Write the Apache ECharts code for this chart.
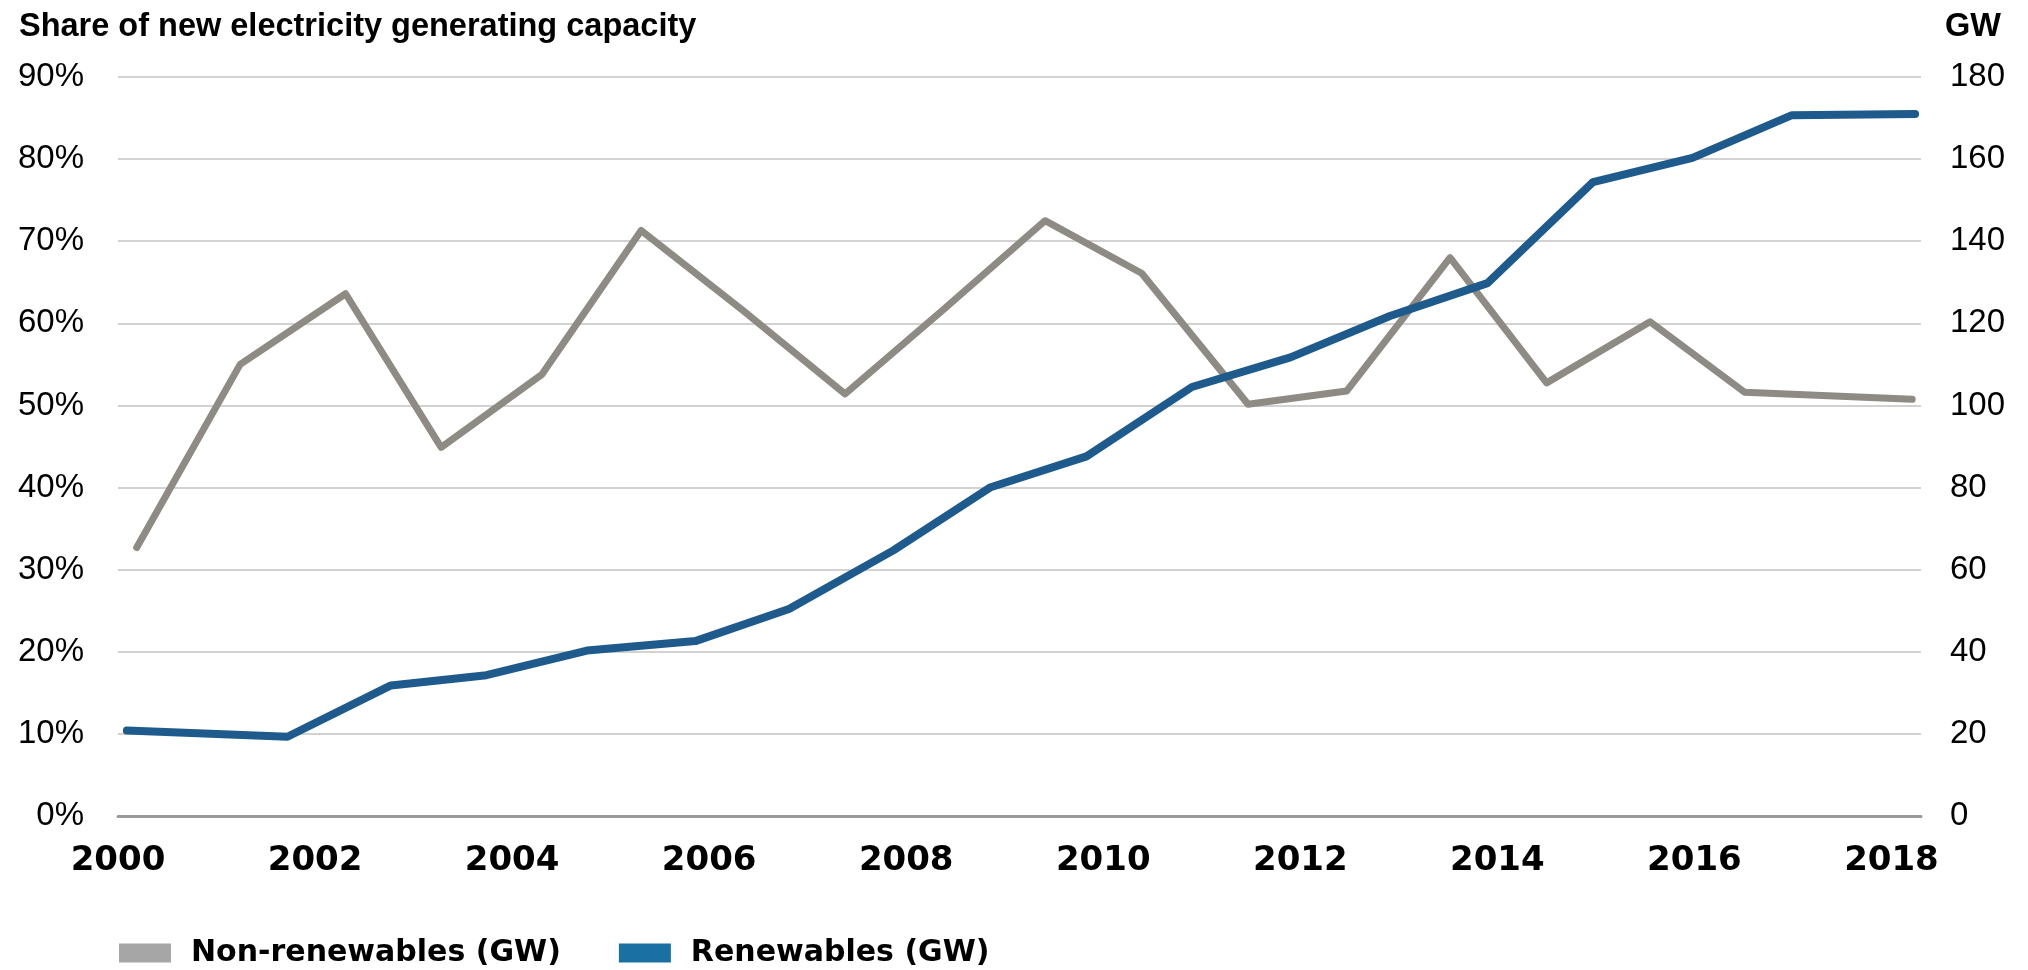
<!DOCTYPE html>
<html>
<head>
<meta charset="utf-8">
<script src="https://cdn.jsdelivr.net/npm/echarts@6/dist/echarts.min.js"></script>
<style>
  html, body { margin: 0; padding: 0; background: #ffffff; }
  #chart { width: 2028px; height: 970px; }
</style>
</head>
<body>
<div id="chart"></div>
<script>
// ---- data ----
const titleText = 'Share of new electricity generating capacity';
const rightUnit = 'GW';
const seriesNames = ['Non-renewables (GW)', 'Renewables (GW)'];
const xTickYears = [2000, 2002, 2004, 2006, 2008, 2010, 2012, 2014, 2016, 2018];
const leftTicks = [0, 10, 20, 30, 40, 50, 60, 70, 80, 90];      // percent
const rightTicks = [0, 20, 40, 60, 80, 100, 120, 140, 160, 180]; // GW

// position of each point along the year axis (as drawn in the picture)
const nonRenewablesX = [2000.19, 2001.24, 2002.31, 2003.28, 2004.30, 2005.31, 2006.35, 2007.38, 2008.38,
                        2009.41, 2010.39, 2011.47, 2012.47, 2013.52, 2014.50, 2015.55, 2016.51, 2018.21];
const nonRenewablesGW = [65.4, 110, 127.2, 89.8, 107.5, 142.6, 123, 102.8, 123.4,
                         145, 132.2, 100.3, 103.5, 136, 105.5, 120.4, 103.2, 101.5];

const renewablesX = [2000.09, 2001.72, 2002.77, 2003.74, 2004.76, 2005.86, 2006.81, 2007.87, 2008.85,
                     2009.83, 2010.90, 2011.90, 2012.91, 2013.90, 2014.97, 2015.98, 2016.99, 2018.24];
const renewablesGW = [20.8, 19.3, 31.8, 34.3, 40.3, 42.6, 50.4, 64.7, 80,
                      87.6, 104.5, 111.7, 121.8, 129.8, 154.4, 160.3, 170.7, 171.0];

// ---- chart ----
const chart = echarts.init(document.getElementById('chart'), null, { renderer: 'canvas' });
const pair = (xs, ys) => xs.map((x, i) => [x, ys[i]]);
const FONT = 'DejaVu Sans';
const FONT2 = 'Liberation Sans';

chart.setOption({
  animation: false,
  backgroundColor: '#ffffff',
  title: [
    {
      text: titleText, left: 14, top: 6,
      textStyle: { fontFamily: FONT2, fontWeight: 'bold', fontSize: 32.5, color: '#000' }
    },
    {
      text: rightUnit, right: 22, top: 6,
      textStyle: { fontFamily: FONT2, fontWeight: 'bold', fontSize: 32.5, color: '#000' }
    }
  ],
  legend: {
    left: 119, top: 938, padding: 0,
    itemWidth: 52, itemHeight: 19, itemGap: 58,
    icon: 'rect',
    textStyle: { fontFamily: FONT, fontWeight: 'bold', fontSize: 30, color: '#000', padding: [0, 0, 0, 15] },
    data: [
      { name: seriesNames[0], itemStyle: { color: '#A6A6A6' } },
      { name: seriesNames[1], itemStyle: { color: '#1A6FA3' } }
    ]
  },
  grid: { left: 118, right: 107, top: 77, bottom: 154, containLabel: false },
  xAxis: {
    type: 'value',
    min: xTickYears[0],
    max: 2018.3,
    interval: 2,
    splitLine: { show: false },
    axisTick: { show: false },
    axisLine: { show: true, lineStyle: { color: '#999999', width: 3 } },
    axisLabel: {
      showMaxLabel: false,
      margin: 28,
      fontFamily: FONT, fontWeight: 'bold', fontSize: 34, color: '#000',
      formatter: v => (xTickYears.indexOf(v) >= 0 ? String(v) : '')
    }
  },
  yAxis: [
    {
      type: 'value', position: 'left',
      min: leftTicks[0], max: leftTicks[leftTicks.length - 1], interval: leftTicks[1] - leftTicks[0],
      axisLine: { show: false }, axisTick: { show: false },
      splitLine: { show: true, lineStyle: { color: '#D2D2D2', width: 2 } },
      axisLabel: { margin: 34, fontFamily: FONT2, fontSize: 33, color: '#000', formatter: '{value}%' }
    },
    {
      type: 'value', position: 'right',
      min: rightTicks[0], max: rightTicks[rightTicks.length - 1], interval: rightTicks[1] - rightTicks[0],
      axisLine: { show: false }, axisTick: { show: false },
      splitLine: { show: false },
      axisLabel: { margin: 29, fontFamily: FONT2, fontSize: 33, color: '#000' }
    }
  ],
  series: [
    {
      name: seriesNames[0], type: 'line', yAxisIndex: 1,
      data: pair(nonRenewablesX, nonRenewablesGW),
      showSymbol: false, symbol: 'none',
      lineStyle: { color: '#8E8A84', width: 7, cap: 'round', join: 'round' },
      itemStyle: { color: '#8E8A84' }
    },
    {
      name: seriesNames[1], type: 'line', yAxisIndex: 1,
      data: pair(renewablesX, renewablesGW),
      showSymbol: false, symbol: 'none',
      lineStyle: { color: '#1F5A8C', width: 8, cap: 'round', join: 'round' },
      itemStyle: { color: '#1F5A8C' }
    }
  ]
});
</script>
</body>
</html>
